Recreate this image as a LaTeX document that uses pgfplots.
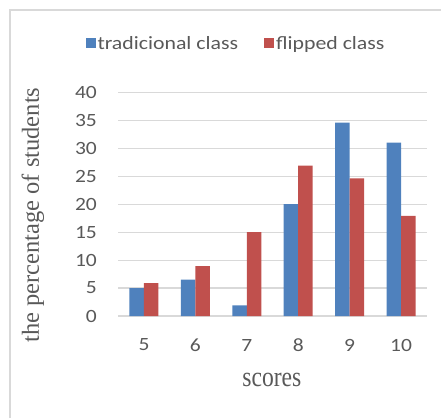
\documentclass[border=0pt]{standalone}
\usepackage{fontspec}
\setmainfont{Carlito}
\newfontfamily\serifl{Liberation Serif}
\usepackage{pgfplots}
\pgfplotsset{compat=1.18}
\definecolor{tradblue}{HTML}{4F81BD}
\definecolor{flipred}{HTML}{C0504D}
\definecolor{gridgray}{HTML}{D9D9D9}
\definecolor{txtgray}{HTML}{595959}
\begin{document}
\begin{tikzpicture}
\useasboundingbox (-118.3pt,-102pt) rectangle (322.7pt,316pt);
\draw[gridgray, line width=1.2pt] (-108.3pt,-102pt) -- (-108.3pt,306pt) -- (322.7pt,306pt);
\begin{axis}[
  at={(0pt,0pt)}, anchor=south west,
  scale only axis,
  width=308.4pt, height=223.7pt,
  ybar=0pt, bar width=14.5pt,
  xmin=-0.5, xmax=5.5,
  ymin=0, ymax=40,
  ytick={0,5,...,40},
  xtick={0,1,2,3,4,5},
  xticklabels={5,6,7,8,9,10},
  major tick length=0pt,
  axis x line*=bottom,
  axis y line*=left,
  x axis line style={gridgray, line width=1.2pt, -},
  y axis line style={draw=none},
  ymajorgrids,
  grid style={gridgray, line width=1.1pt},
  /pgf/number format/assume math mode=true,
  xticklabel style={font=\fontsize{21.5}{24}\selectfont, text=txtgray, anchor=center, yshift=-29pt, yscale=0.87},
  yticklabel style={font=\fontsize{21.5}{24}\selectfont, text=txtgray, anchor=east, inner sep=0pt, xshift=-21.3pt, yscale=0.87},
  xlabel={scores},
  ylabel={the percentage of students},
  every axis x label/.style={at={(axis description cs:0.498,-0.286)}, anchor=center, font=\serifl\fontsize{23.6}{26}\selectfont, text=txtgray, yscale=1.2},
  every axis y label/.style={at={(axis description cs:-0.2766,0.451)}, anchor=center, rotate=90, font=\serifl\fontsize{24.5}{27}\selectfont, text=txtgray},
  legend columns=2,
  legend style={at={(axis description cs:0.3817,1.2188)}, anchor=center, draw=none, fill=none,
    font=\fontsize{21.8}{24}\selectfont, text=txtgray,
    /tikz/every even column/.append style={column sep=24pt},
    nodes={yscale=0.86, inner sep=2pt}},
  legend image code/.code={\fill[#1] (0pt,-5pt) rectangle (10pt,5pt);},
]
\addplot[fill=tradblue, draw=none] coordinates {(0,5) (1,6.5) (2,1.9) (3,20) (4,34.6) (5,31)};
\addplot[fill=flipred, draw=none] coordinates {(0,5.9) (1,8.9) (2,15) (3,26.9) (4,24.6) (5,17.9)};
\legend{tradicional class, flipped class}
\end{axis}
\end{tikzpicture}
\end{document}
